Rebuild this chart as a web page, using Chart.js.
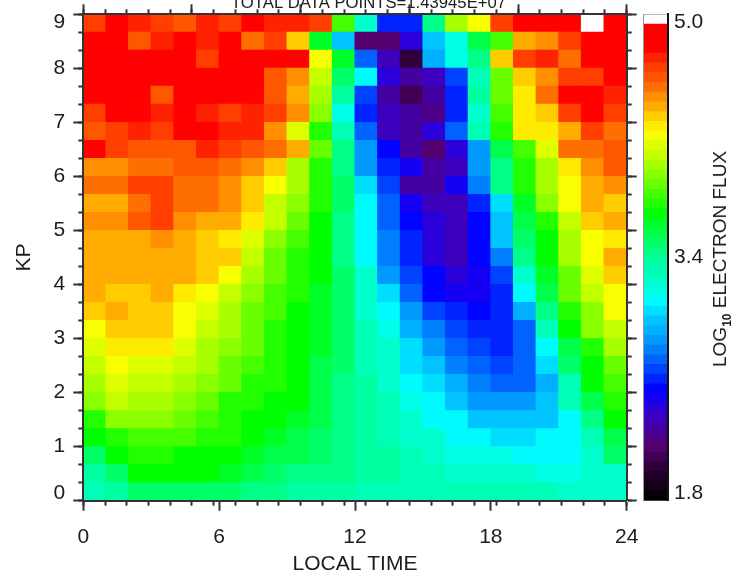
<!DOCTYPE html>
<html>
<head>
<meta charset="utf-8">
<style>
html,body{margin:0;padding:0;background:#fff;width:737px;height:578px;overflow:hidden}
canvas{position:absolute;top:0;display:block;filter:blur(0.45px)}
#flux{position:absolute;left:720px;top:259px;transform:translate(-50%,-50%) rotate(-90deg);white-space:nowrap;
 font:19px "Liberation Sans",sans-serif;color:#1c1c1c}
#flux sub{font-size:12px;line-height:0;font-weight:bold}
</style>
<script src="https://cdn.jsdelivr.net/npm/chart.js@4"></script>
</head>
<body>
<canvas id="main" width="737" height="578" style="left:0"></canvas>
<canvas id="bar" width="107" height="578" style="left:630px"></canvas>
<div id="flux">LOG<sub>10</sub> ELECTRON FLUX</div>
<script>
const titleText = 'TOTAL DATA POINTS=1.43945E+07';
const xTitle = 'LOCAL TIME';
const yTitle = 'KP';
const localTimeCenters = [0.5,1.5,2.5,3.5,4.5,5.5,6.5,7.5,8.5,9.5,10.5,11.5,12.5,13.5,14.5,15.5,16.5,17.5,18.5,19.5,20.5,21.5,22.5,23.5];
const barTickValues = [1.8,3.4,5.0];
// log10 electron flux: first row is the top row (KP 8.67-9), last row is KP 0-0.33
const flux = [
[4.65,4.8,4.74,4.67,4.56,4.73,4.67,4.78,4.68,4.73,4.65,3.8,3.25,2.63,2.58,3.43,3.98,4.2,4.63,4.8,4.8,4.8,5.0,4.8],
[4.8,4.8,4.56,4.72,4.78,4.73,4.76,4.54,4.65,4.31,3.6,2.97,2.15,2.17,2.43,2.97,3.18,3.58,3.82,4.41,4.44,4.65,4.75,4.78],
[4.85,4.85,4.85,4.85,4.85,4.65,4.75,4.8,4.8,4.8,4.2,3.62,2.73,2.35,2.0,2.9,3.2,3.45,4.35,4.65,4.72,4.49,4.77,4.8],
[4.85,4.85,4.85,4.85,4.85,4.85,4.85,4.85,4.56,4.44,4.1,3.52,3.12,2.42,2.3,2.37,2.65,3.33,3.85,4.3,4.44,4.65,4.67,4.78],
[4.85,4.85,4.76,4.56,4.85,4.85,4.85,4.77,4.61,4.4,3.98,3.38,2.67,2.28,2.1,2.28,2.6,3.38,3.85,4.26,4.52,4.76,4.78,4.68],
[4.64,4.8,4.76,4.73,4.76,4.7,4.67,4.7,4.65,4.44,3.92,3.18,2.57,2.33,2.27,2.22,2.63,3.25,3.8,4.28,4.31,4.65,4.75,4.65],
[4.58,4.65,4.73,4.65,4.78,4.75,4.7,4.72,4.47,4.12,3.75,3.28,2.7,2.32,2.25,2.38,2.75,3.28,3.73,4.27,4.27,4.4,4.65,4.52],
[4.75,4.63,4.58,4.58,4.58,4.72,4.67,4.58,4.5,4.37,3.87,3.45,2.87,2.53,2.26,2.18,2.38,2.85,3.55,3.82,4.12,4.5,4.5,4.58],
[4.48,4.48,4.49,4.52,4.58,4.58,4.53,4.44,4.3,4.0,3.78,3.43,2.87,2.57,2.45,2.28,2.34,2.85,3.43,3.78,3.98,4.26,4.44,4.58],
[4.53,4.55,4.64,4.64,4.52,4.55,4.44,4.35,4.22,4.0,3.78,3.47,3.05,2.65,2.3,2.25,2.45,2.78,3.42,3.73,4.0,4.22,4.37,4.48],
[4.4,4.4,4.52,4.64,4.53,4.5,4.46,4.3,4.1,3.92,3.75,3.5,3.1,2.7,2.45,2.37,2.36,2.6,3.05,3.65,3.93,4.22,4.39,4.35],
[4.43,4.44,4.58,4.64,4.48,4.37,4.36,4.27,4.05,3.85,3.69,3.43,3.12,2.75,2.53,2.4,2.37,2.52,2.98,3.57,3.78,4.05,4.3,4.37],
[4.4,4.4,4.4,4.43,4.4,4.34,4.26,4.14,3.95,3.8,3.69,3.42,3.12,2.8,2.58,2.43,2.37,2.52,2.98,3.48,3.7,4.02,4.2,4.27],
[4.4,4.36,4.41,4.4,4.4,4.3,4.3,4.07,3.88,3.76,3.68,3.42,3.12,2.8,2.6,2.42,2.34,2.53,2.8,3.42,3.69,3.98,4.18,4.37],
[4.37,4.4,4.4,4.4,4.39,4.3,4.2,4.0,3.85,3.77,3.7,3.47,3.22,2.88,2.67,2.53,2.42,2.46,2.68,3.25,3.6,3.88,4.14,4.3],
[4.36,4.35,4.3,4.36,4.29,4.22,4.05,3.97,3.82,3.72,3.65,3.47,3.25,3.03,2.75,2.56,2.48,2.48,2.6,3.12,3.57,3.85,4.05,4.22],
[4.3,4.37,4.35,4.31,4.22,4.12,4.0,3.9,3.8,3.69,3.65,3.47,3.27,3.12,2.83,2.67,2.57,2.53,2.58,2.9,3.43,3.73,3.97,4.17],
[4.22,4.3,4.32,4.3,4.22,4.08,3.98,3.87,3.78,3.69,3.63,3.47,3.3,3.18,2.95,2.78,2.64,2.57,2.58,2.75,3.33,3.69,3.95,4.08],
[4.14,4.29,4.29,4.24,4.11,4.03,3.96,3.85,3.78,3.69,3.6,3.47,3.32,3.22,3.02,2.85,2.73,2.64,2.62,2.73,3.12,3.57,3.78,3.98],
[4.08,4.23,4.11,4.11,4.05,3.98,3.88,3.8,3.75,3.69,3.58,3.47,3.33,3.25,3.07,2.97,2.82,2.7,2.64,2.73,3.06,3.52,3.7,3.9],
[4.02,4.16,4.09,4.08,4.02,3.96,3.85,3.78,3.72,3.68,3.57,3.46,3.35,3.27,3.13,3.03,2.9,2.8,2.75,2.75,2.95,3.33,3.69,3.83],
[3.92,4.05,3.99,3.99,3.93,3.85,3.78,3.73,3.7,3.68,3.56,3.46,3.36,3.28,3.16,3.09,2.99,2.87,2.83,2.83,2.98,3.28,3.58,3.72],
[3.78,3.93,3.95,3.93,3.87,3.8,3.78,3.69,3.69,3.65,3.56,3.46,3.38,3.32,3.22,3.13,3.08,3.0,2.97,2.97,2.99,3.12,3.4,3.69],
[3.69,3.78,3.82,3.82,3.8,3.76,3.72,3.69,3.65,3.58,3.52,3.43,3.38,3.33,3.27,3.22,3.13,3.09,3.07,3.05,3.09,3.1,3.28,3.58],
[3.5,3.69,3.73,3.73,3.7,3.69,3.69,3.6,3.57,3.53,3.47,3.43,3.38,3.34,3.29,3.26,3.16,3.16,3.16,3.14,3.12,3.12,3.22,3.47],
[3.35,3.52,3.67,3.68,3.68,3.66,3.6,3.56,3.5,3.46,3.42,3.4,3.36,3.34,3.3,3.28,3.27,3.26,3.25,3.25,3.2,3.18,3.22,3.27],
[3.3,3.39,3.47,3.49,3.5,3.52,3.47,3.44,3.41,3.38,3.36,3.34,3.32,3.3,3.3,3.29,3.29,3.29,3.29,3.28,3.28,3.27,3.27,3.27]
];
const fluxMin = 1.8, fluxMax = 5.0, levels = 50, kpMax = 9, hourMax = 24;
const colourStops = [
[1.8,0,0,0],[2.0,40,0,50],[2.15,85,0,110],[2.35,60,0,190],[2.45,30,0,240],[2.53,0,0,255],[2.65,0,60,255],
[2.75,0,110,255],[2.87,0,160,255],[3.0,0,200,255],[3.12,0,255,255],[3.25,0,255,200],[3.4,0,255,150],[3.55,0,255,80],
[3.69,0,255,0],[3.8,60,255,0],[3.87,100,255,0],[3.97,150,255,0],[4.08,200,255,0],[4.22,255,255,0],[4.31,255,215,0],
[4.37,255,180,0],[4.44,255,150,0],[4.52,255,110,0],[4.63,255,70,0],[4.72,255,30,0],[4.78,255,0,0],[5.0,255,0,0]
];
const step = (fluxMax - fluxMin) / levels;
function levelOf(v){ return Math.min(levels - 1, Math.floor((v - fluxMin) / step + 1e-9)); }
function colourOfLevel(l){
  if (l === levels - 1) return '#ffffff';
  const v = fluxMin + (l + 0.5) * step;
  let i = 0;
  while (i < colourStops.length - 2 && colourStops[i + 1][0] < v) i++;
  const a = colourStops[i], b = colourStops[i + 1], t = Math.max(0, Math.min(1, (v - a[0]) / (b[0] - a[0])));
  return 'rgb(' + [1,2,3].map(k => Math.round(a[k] + (b[k] - a[k]) * t)).join(',') + ')';
}
const axisColour = '#333333', textColour = '#1c1c1c', fontName = '"Liberation Sans", sans-serif';
const rowHeight = kpMax / flux.length;
const cells = [];
flux.forEach((row, r) => row.forEach((v, c) => {
  const bottom = kpMax - (r + 1) * rowHeight;
  cells.push({x: localTimeCenters[c], y: [bottom, bottom + rowHeight], v: v});
}));
function noPad(s){ s.paddingLeft = s.paddingRight = s.paddingTop = s.paddingBottom = 0; }
function tickAxis(position, min, max, stepSize, len, extra, size){
  return Object.assign({
    type: 'linear', position, min, max,
    ticks: {stepSize, display: false, autoSkip: false},
    grid: {drawOnChartArea: false, drawTicks: true, tickLength: len, tickColor: axisColour, tickWidth: 2, z: 1},
    border: {display: true, color: axisColour, width: 2, z: 1},
    afterFit(s){ noPad(s); if (position === 'top' || position === 'bottom') s.height = size || 0; else s.width = size || 0; }
  }, extra || {});
}
const font = {family: fontName, size: 21};
new Chart(document.getElementById('main'), {
  type: 'bar',
  data: {datasets: [{
    data: cells,
    backgroundColor: ctx => ctx.raw ? colourOfLevel(levelOf(ctx.raw.v)) : '#fff',
    borderWidth: 0, inflateAmount: 0.5, barPercentage: 1, categoryPercentage: 1
  }]},
  options: {
    responsive: false, animation: false, devicePixelRatio: 1,
    layout: {padding: 0},
    plugins: {
      legend: {display: false}, tooltip: {enabled: false},
      title: {display: true, text: titleText, color: textColour, font: {family: fontName, size: 16.7, lineHeight: 1, weight: 'normal'}, padding: {top: -5.3, bottom: 2.9}}
    },
    scales: {
      x: {type: 'linear', position: 'bottom', min: 0, max: hourMax, weight: 0, offset: false,
        ticks: {stepSize: 6, autoSkip: false, maxRotation: 0, color: textColour, font, padding: 14},
        grid: {offset: false, drawOnChartArea: false, tickLength: 10, tickColor: axisColour, tickWidth: 2, z: 1},
        border: {color: axisColour, width: 2, z: 1},
        title: {display: true, text: xTitle, color: textColour, font: {family: fontName, size: 21, lineHeight: 1.2}, padding: {top: 0, bottom: 1}},
        afterFit(s){ noPad(s); s.height = 77.3; }
      },
      xMinor: tickAxis('bottom', 0, hourMax, 1, 5, {weight: -1}),
      xTop: tickAxis('top', 0, hourMax, 6, 10),
      xTopMinor: tickAxis('top', 0, hourMax, 1, 5),
      y: {type: 'linear', position: 'left', min: 0, max: kpMax, weight: 0,
        ticks: {stepSize: 1, autoSkip: false, color: textColour, font: {family: fontName, size: 21, lineHeight: 0.75}, padding: 8,
          callback: v => v === kpMax ? ['', String(v)] : (v === 0 ? [String(v), ''] : String(v))},
        grid: {drawOnChartArea: false, tickLength: 10, tickColor: axisColour, tickWidth: 2, z: 1},
        border: {color: axisColour, width: 2, z: 1},
        title: {display: true, text: yTitle, color: textColour, font: {family: fontName, size: 21, lineHeight: 1.2}, padding: {top: 12, bottom: 0}},
        afterFit(s){ noPad(s); s.width = 83.3; }
      },
      yMinor: tickAxis('left', 0, kpMax, rowHeight, 5, {weight: -1, ticks: {display: false, autoSkip: false, count: 28, stepSize: undefined}}),
      yRight: tickAxis('right', 0, kpMax, 1, 10, {weight: 0}),
      yRightMinor: tickAxis('right', 0, kpMax, rowHeight, 5, {weight: 1, ticks: {display: false, autoSkip: false, count: 28, stepSize: undefined}}, 110.3)
    }
  }
});
const barDatasets = [];
for (let l = 0; l < levels; l++) {
  barDatasets.push({
    data: [[fluxMin + l * step, fluxMin + (l + 1) * step]],
    backgroundColor: colourOfLevel(l),
    borderWidth: 0, inflateAmount: 0.4, barPercentage: 1, categoryPercentage: 1, grouped: false
  });
}
new Chart(document.getElementById('bar'), {
  type: 'bar',
  data: {labels: ['flux'], datasets: barDatasets},
  options: {
    responsive: false, animation: false, devicePixelRatio: 1, grouped: false,
    layout: {padding: {left: 13.5, top: 14.3, bottom: 77.3, right: 0}},
    plugins: {legend: {display: false}, tooltip: {enabled: false}},
    scales: {
      x: {position: 'top', offset: true, ticks: {display: false},
        grid: {display: false}, border: {display: true, color: '#bbbbbb', width: 1, z: 1},
        afterFit(s){ noPad(s); s.height = 0; }},
      yLeft: {type: 'linear', position: 'left', min: fluxMin, max: fluxMax,
        ticks: {display: false}, grid: {display: false}, border: {display: true, color: '#999999', width: 1, z: 1},
        afterFit(s){ noPad(s); s.width = 0; }},
      y: {type: 'linear', position: 'right', min: fluxMin, max: fluxMax,
        afterBuildTicks(s){ s.ticks = barTickValues.map(value => ({value})); },
        ticks: {autoSkip: false, color: textColour, font: {family: fontName, size: 21, lineHeight: 0.75}, padding: 6,
          callback: v => v === fluxMax ? ['', v.toFixed(1)] : (v === fluxMin ? [v.toFixed(1), ''] : v.toFixed(1))},
        grid: {drawOnChartArea: false, drawTicks: false},
        border: {color: '#111111', width: 2, z: 1},
        afterFit(s){ noPad(s); s.width = 69; }
      }
    }
  }
});
</script>
</body>
</html>
